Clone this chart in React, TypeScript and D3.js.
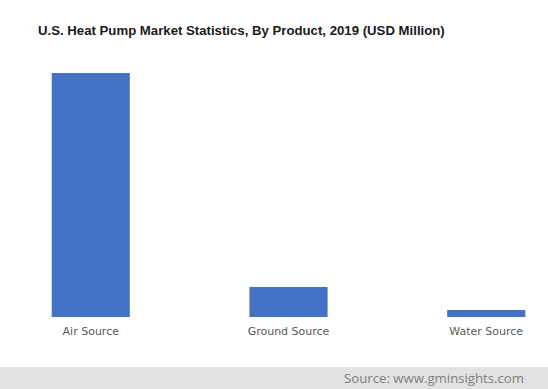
import React from "react";
import * as d3 from "d3";

// USD Million
const products = ["Air Source", "Ground Source", "Water Source"];
const marketValues = [6100, 750, 175];

const title = "U.S. Heat Pump Market Statistics, By Product, 2019 (USD Million)";
const sourceText = "Source: www.gminsights.com";

export default function App() {
  const width = 548;
  const height = 389;
  const baseline = 317;
  const top = 73;

  const x = d3.scaleBand<string>()
    .domain(products)
    .range([26, 551])
    .paddingInner(0.605)
    .paddingOuter(0.13);

  const y = d3.scaleLinear()
    .domain([0, d3.max(marketValues) as number])
    .range([baseline, top]);

  return (
    <div style={{ position: "fixed", left: 0, top: 0, lineHeight: 0 }}>
      <svg width={width} height={height} style={{ display: "block", background: "#fff" }}>
        <text x={38} y={35} fontFamily="Liberation Sans, Arial, sans-serif" fontWeight="bold"
          fontSize={13.2} fill="#1a1a1a">
          {title}
        </text>

        {products.map((p, i) => (
          <rect key={p} x={x(p)} y={y(marketValues[i])} width={x.bandwidth()}
            height={baseline - y(marketValues[i])} fill="#4472c4" />
        ))}

        {products.map((p) => (
          <text key={p} x={(x(p) as number) + x.bandwidth() / 2} y={335} textAnchor="middle"
            fontFamily="DejaVu Sans, Verdana, sans-serif" fontSize={11} fill="#595959">
            {p}
          </text>
        ))}

        <rect x={0} y={367} width={width} height={height - 367} fill="#e2e2e2" />
        <text x={524} y={383} textAnchor="end" fontFamily="Open Sans, sans-serif"
          fontSize={13.2} fill="#7f7f7f">
          {sourceText}
        </text>
      </svg>
    </div>
  );
}
